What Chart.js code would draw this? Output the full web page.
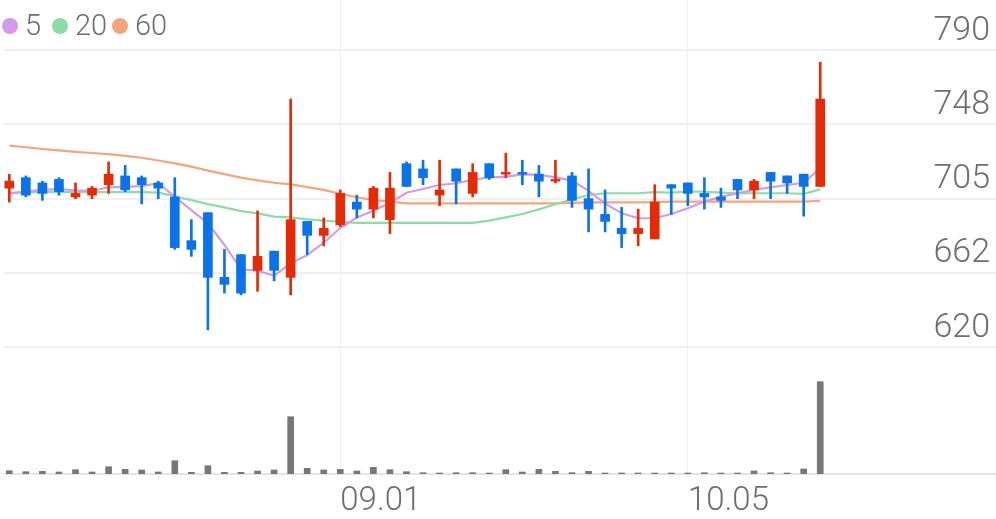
<!DOCTYPE html>
<html>
<head>
<meta charset="utf-8">
<script src="https://cdn.jsdelivr.net/npm/chart.js@4.4.1/dist/chart.umd.min.js"></script>
<style>
  html, body { margin: 0; padding: 0; background: #fff; }
  #wrap { position: relative; width: 996px; height: 519px; }
  #legend { position: absolute; left: 0; top: 0; font: 300 29px Roboto, sans-serif; color: #6e6e6e; }
  .item { position: absolute; top: 7px; height: 36px; display: flex; align-items: center; white-space: nowrap; }
  .dot { width: 16px; height: 16px; border-radius: 50%; margin-right: 7px; margin-top: 2px; }
</style>
</head>
<body>
<div id="wrap">
  <canvas id="chart"></canvas>
  <div id="legend"></div>
</div>
<script>
// daily candles
const opens  = [711,717,714,716,706,707,713,718,717,714, 706,681,697,660,673,664,675,660,692,684,
                690,703,699,693,725,722,707,722,708,725, 719,720,719,715,718,705,696,688,685,682,
                713,714,708,706,716,710,720,718,719,712];
const highs  = [719,718,715,717,714,712,726,724,718,715, 717,693,697,676,673,698,675,762,692,694,
                710,707,712,720,726,727,727,722,725,725, 731,727,724,727,720,722,710,700,699,713,
                713,714,717,711,716,716,720,718,719,783];
const lows   = [703,706,704,707,705,705,708,709,702,705, 676,672,630,651,650,652,658,650,673,678,
                689,694,694,685,712,713,701,702,706,716, 717,713,706,714,700,686,686,677,678,682,
                696,701,699,700,705,705,705,708,695,712];
const closes = [715,707,708,709,708,711,719,710,713,711, 677,676,660,656,651,672,664,693,684,688,
                708,699,711,711,712,717,710,715,720,717, 720,719,715,716,704,699,692,685,688,703,
                711,708,706,704,710,715,715,714,712,762];
const volumes = [33,23,27,20,43,20,73,47,40,20, 133,17,83,17,17,30,40,573,57,40,
                 47,30,67,43,23,13,10,13,13,10, 43,20,47,27,13,27,10,10,10,10,
                 10,10,13,10,10,30,13,10,50,923];

// moving averages as drawn
const ma5  = [708,709,710,710.5,709.8,709.4,711.5,711.7,712.2,713.8, 706.1,698.5,690.9,678.5,664.6,663.8,660.9,668,672.8,679.8,
              688.2,694.3,698.1,702.7,708.4,710.5,712.8,713.8,715.7,717.2, 717.5,718.9,718.7,717.2,715.3,709.5,702.3,696.6,693.8,693.8,
              696.2,699.5,703.3,706.1,708.1,710,711.5,712.8,714.1,722.4];
const ma20 = [708.1,708.6,708.7,708.7,708.7,708.7,708.7,708.7,708.7,708.5, 706.3,704.2,701.9,700,697.9,696.6,694.7,694.3,693.2,692.4,
              691.8,691.2,691.2,691.2,691.2,691.2,691.2,691.2,691.2,692.4, 694.3,696.2,698.9,701.8,704.6,707.1,708.1,708.1,708.1,708.7,
              708.4,709,709,708.4,708.1,708.1,708.1,708.1,707.7,710.3];
const ma60 = [735.3,734.4,733.4,732.6,731.8,731.1,730.5,729.5,728.4,726.8, 725.2,723.3,721,719,717,715.5,714.1,713.2,711.6,710,
              707.7,705.8,704.2,703.3,702.3,702.3,702.3,702.3,702.3,702.3, 702.3,702.3,702.3,702.3,702.6,702.9,702.9,702.9,702.9,703,
              703.3,703.3,703.3,703.3,703.3,703.3,703.3,703.3,703.3,703.8];

const maNames = ['5', '20', '60'];
const xTickIdx = [20, 41];
const xTickLabels = ['09.01', '10.05'];
const yTickValues = [620, 662.5, 705, 747.5, 790];
const yTickLabels = ['620', '662', '705', '748', '790'];

const UP = '#e42b05';
const DOWN = '#0b73e9';
const maColors = ['#d699ea', '#8fdba5', '#f7a47c'];
const textColor = '#6e6e6e';

const idx = closes.map((c, i) => i);
const candleColors = idx.map(i => closes[i] >= opens[i] ? UP : DOWN);

const bodyData = idx.map(i => ({ x: i, y: [opens[i], closes[i]] }));
const wickData = idx.map(i => ({ x: i, y: [lows[i], highs[i]] }));
const volData = idx.map(i => ({ x: i, y: volumes[i] }));
const maSeries = [ma5, ma20, ma60];

// lower order is drawn on top: candles over the MA lines, volume at the back
const datasets = [
  { type: 'bar', label: 'body', data: bodyData, backgroundColor: candleColors, barThickness: 9,
    grouped: false, yAxisID: 'y', order: 0 },
  { type: 'bar', label: 'wick', data: wickData, backgroundColor: candleColors, barThickness: 2,
    grouped: false, yAxisID: 'y', order: 1 },
  { type: 'bar', label: 'vol', data: volData, backgroundColor: '#777777', barThickness: 6,
    grouped: false, yAxisID: 'yv', order: 5 }
];
maSeries.forEach((s, k) => {
  datasets.push({
    type: 'line', label: maNames[k], data: idx.map(i => ({ x: i, y: s[i] })),
    borderColor: maColors[k], borderWidth: 2.2, pointRadius: 0, tension: 0,
    yAxisID: 'y', order: 2
  });
});

new Chart(document.getElementById('chart'), {
  type: 'bar',
  data: { datasets: datasets },
  options: {
    responsive: true,
    maintainAspectRatio: false,
    animation: false,
    layout: { padding: { left: 4, right: 0, top: 0, bottom: 0 } },
    plugins: { legend: { display: false }, tooltip: { enabled: false } },
    scales: {
      x: {
        type: 'linear',
        offset: false,
        min: -0.32,
        max: 59.62,
        afterBuildTicks: s => { s.ticks = xTickIdx.map(v => ({ value: v })); },
        afterFit: s => { s.height = 45; s.paddingLeft = 0; s.paddingRight = 0; },
        ticks: {
          callback: (v) => xTickLabels[xTickIdx.indexOf(v)],
          align: 'start',
          padding: 8,
          color: textColor,
          font: { family: 'Roboto', size: 33, weight: 300 },
          maxRotation: 0,
          autoSkip: false
        },
        grid: { offset: false, color: '#f0f0f0', lineWidth: 1, drawTicks: false },
        border: { display: true, color: '#e4e4e4', width: 2 }
      },
      y: {
        position: 'right',
        min: 547.56,
        max: 818.59,
        afterBuildTicks: s => { s.ticks = yTickValues.map(v => ({ value: v })); },
        afterFit: s => { s.width = 0; s.paddingTop = 0; s.paddingBottom = 0; },
        ticks: {
          mirror: true,
          padding: -6,
          labelOffset: -19,
          callback: (v) => yTickLabels[yTickValues.indexOf(v)],
          color: textColor,
          font: { family: 'Roboto', size: 34, weight: 300 }
        },
        grid: { color: '#f0f0f0', lineWidth: 2, drawTicks: false },
        border: { display: false }
      },
      yv: {
        display: false,
        min: 0,
        max: 4740
      }
    }
  }
});

// legend
const legend = document.getElementById('legend');
const legendLeft = [2, 52, 112];
maNames.forEach((name, k) => {
  const item = document.createElement('div');
  item.className = 'item';
  item.style.left = legendLeft[k] + 'px';
  const dot = document.createElement('span');
  dot.className = 'dot';
  dot.style.background = maColors[k];
  const txt = document.createElement('span');
  txt.textContent = name;
  item.appendChild(dot);
  item.appendChild(txt);
  legend.appendChild(item);
});
</script>
</body>
</html>
